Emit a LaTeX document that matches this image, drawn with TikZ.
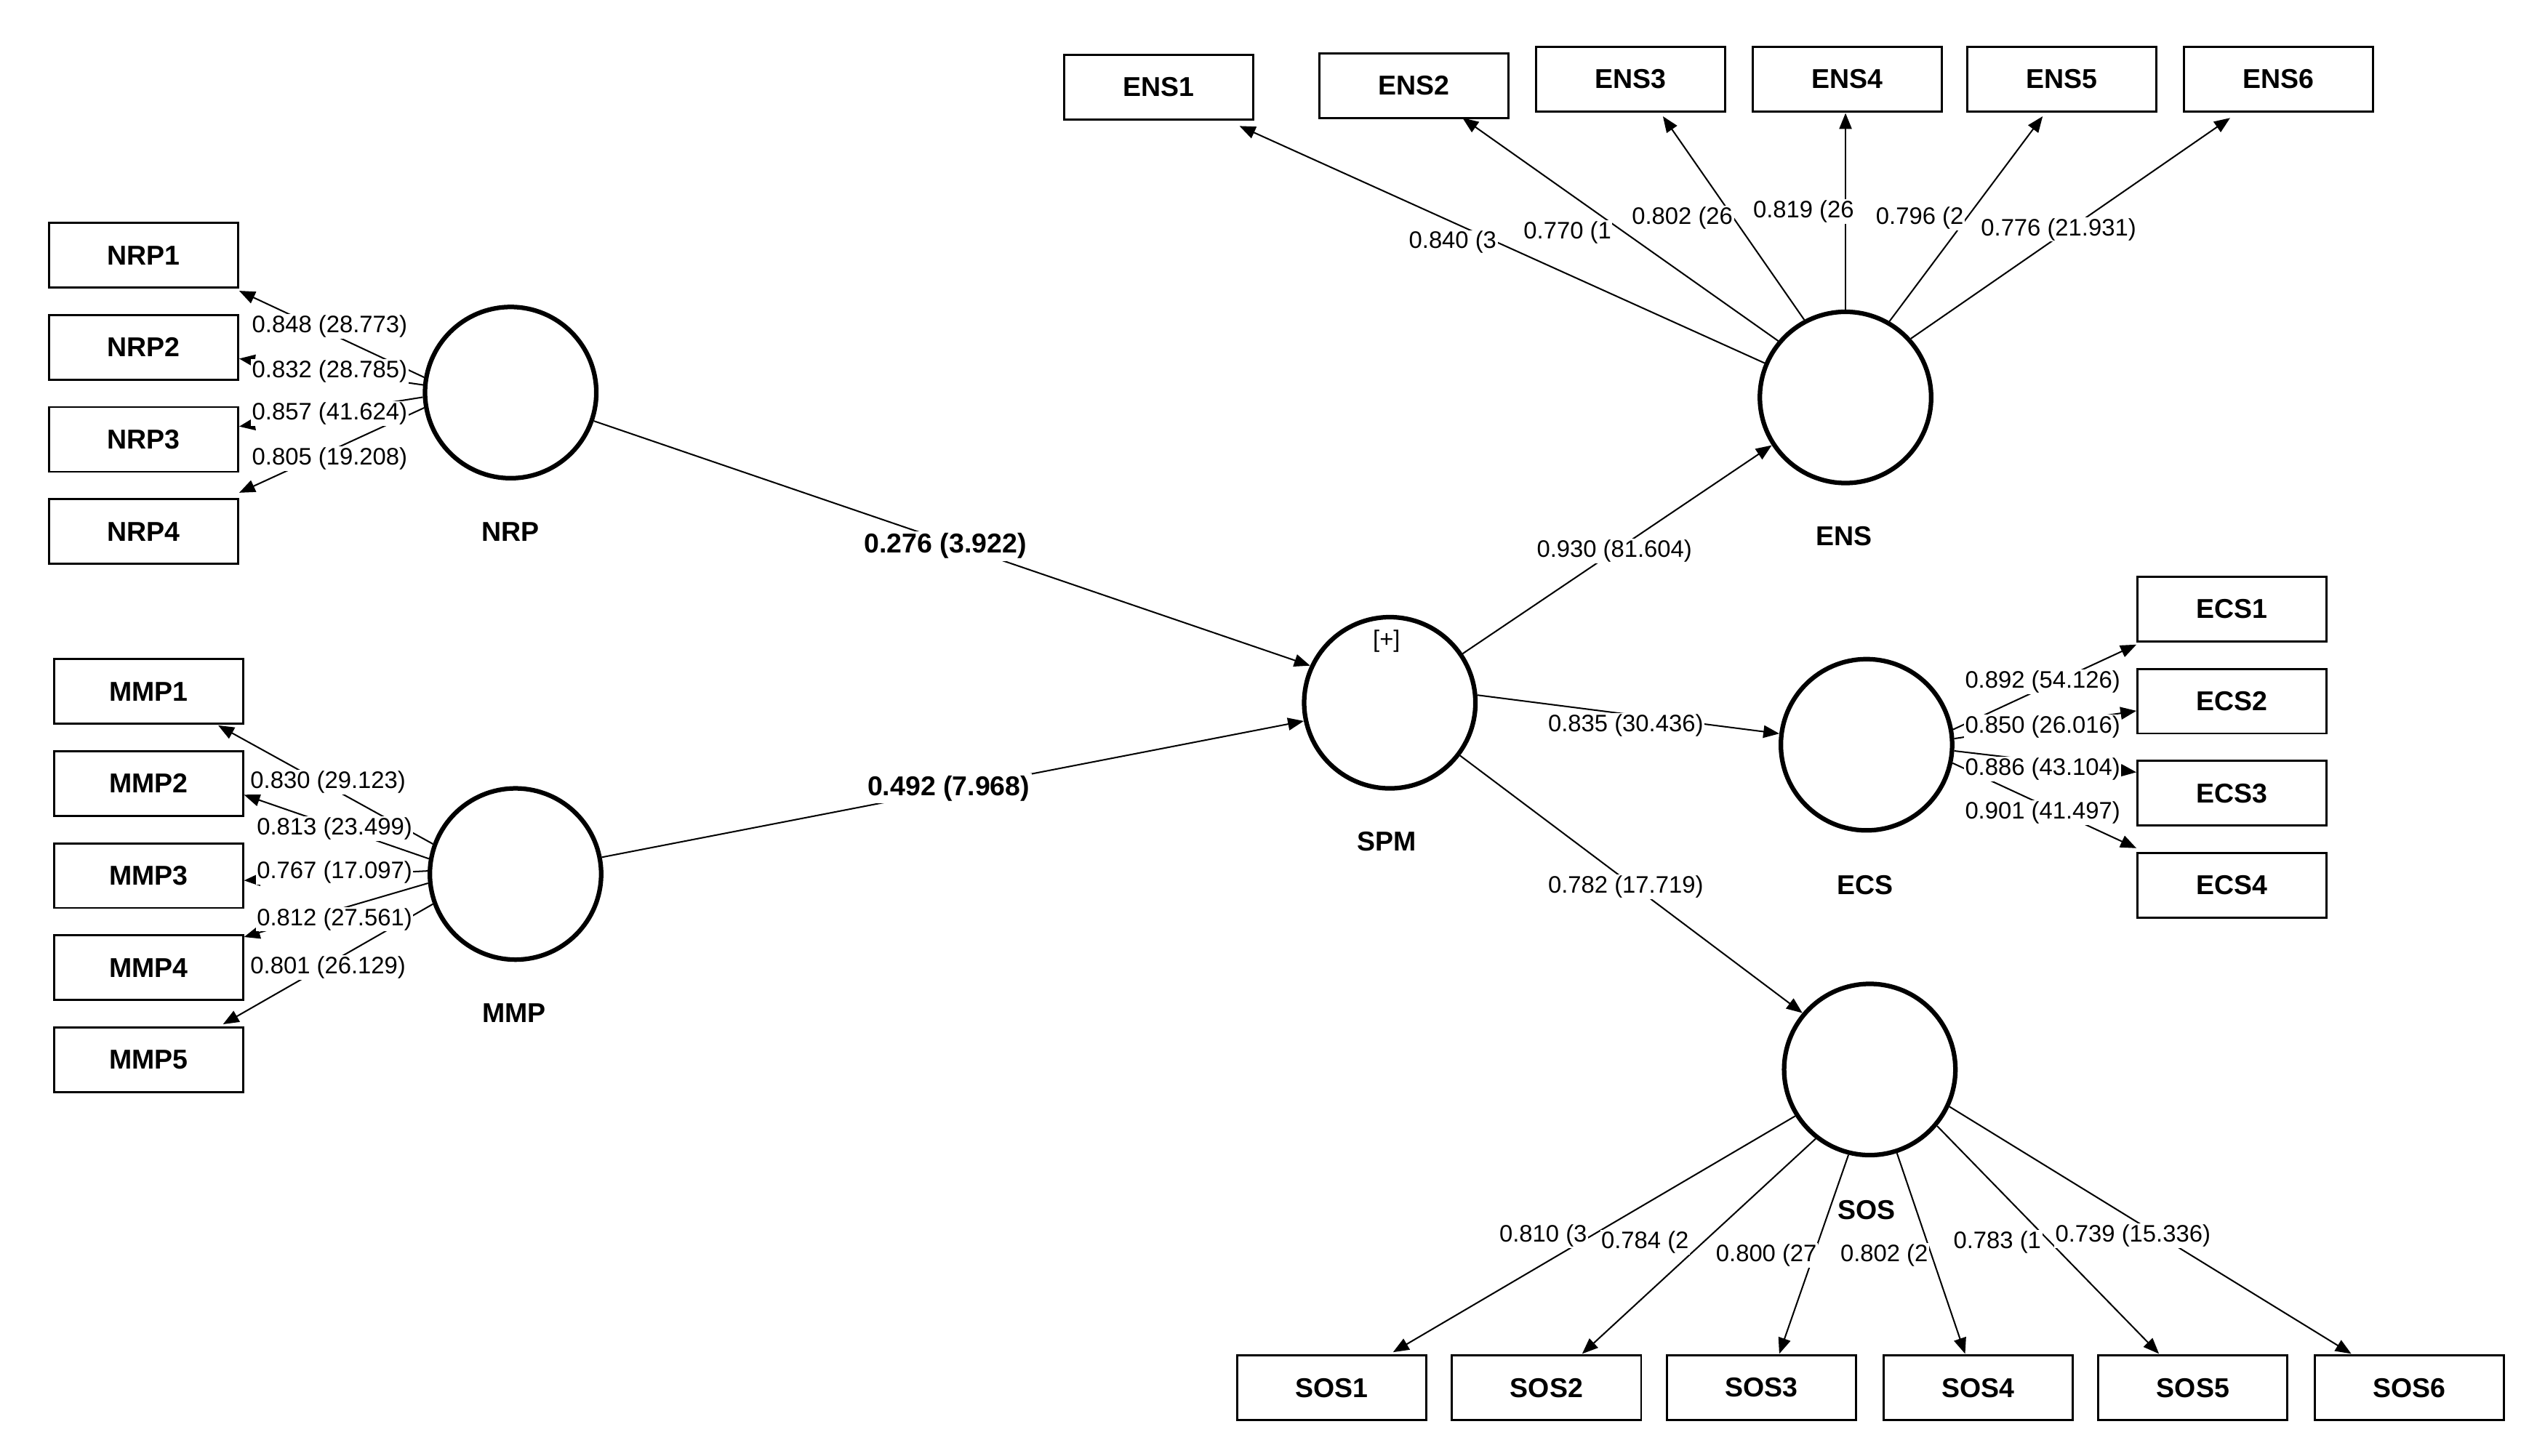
\documentclass[tikz,border=0pt]{standalone}
\usepackage{fontspec}
\setmainfont{Liberation Sans}
\usetikzlibrary{arrows.meta}
\begin{document}
\begin{tikzpicture}[x=0.05cm,y=-0.05cm,
 box/.style={draw,line width=1.8pt,fill=white,minimum width=5.85cm,minimum height=2cm,font=\fontsize{24}{28}\selectfont\bfseries,inner sep=0pt},
 lv/.style={draw,circle,line width=4pt,minimum size=5.3cm,inner sep=0pt},
 lvl/.style={font=\fontsize{24}{28}\selectfont\bfseries},
 num/.style={font=\fontsize{21}{24}\selectfont,fill=white,inner sep=1pt},
 bnum/.style={font=\fontsize{24}{28}\selectfont\bfseries,fill=white,inner sep=2pt},
 ar/.style={-{Triangle[length=14pt,width=11pt]},line width=1.3pt}]
\useasboundingbox (0,0) rectangle (1560,901);
% latent variables
\node[lv] (NRP) at (316,243) {};
\node[lv] (MMP) at (319,541) {};
\node[lv] (SPM) at (860,435) {};
\node[lv] (ENS) at (1142,246) {};
\node[lv] (ECS) at (1155,461) {};
\node[lv] (SOS) at (1157,662) {};
\node[lvl] (lNRP) at (316,329) {NRP};
\node[lvl] (lMMP) at (318,627) {MMP};
\node[lvl] (lSPM) at (858,521) {SPM};
\node[lvl] (lENS) at (1141,332) {ENS};
\node[lvl] (lECS) at (1154,548) {ECS};
\node[lvl] (lSOS) at (1155,749) {SOS};
\node[font=\fontsize{21}{24}\selectfont] (plus) at (858,397) {[+]};
% endpoints
\foreach \n/\x/\y in {n1/148/180,n2/148/222,n3/148/264,n4/148/305,
 m1/135/449,m2/151/492,m3/151/545,m4/151/580,m5/138/634,
 e1/767/78,e2/905/73,e3/1029/72,e4/1142/70,e5/1264/72,e6/1380/73,
 c1/1322/399,c2/1322/440,c3/1322/478,c4/1322/525,
 s1/862/837,s2/979/838,s3/1101/838,s4/1216/838,s5/1336/838,s6/1455/838}
 {\coordinate (\n) at (\x,\y);}
% structural paths
\draw[ar] (NRP) -- (SPM.155);
\draw[ar] (MMP) -- (SPM.192);
\draw[ar] (SPM) -- (ENS.213);
\draw[ar] (SPM.5) -- (ECS);
\draw[ar] (SPM) -- (SOS.140);
% loadings
\draw[ar] (NRP.170) -- (n1); \draw[ar] (NRP.175) -- (n2);
\draw[ar] (NRP.183) -- (n3); \draw[ar] (NRP.190) -- (n4);
\draw[ar] (MMP.160) -- (m1); \draw[ar] (MMP.170) -- (m2);
\draw[ar] (MMP.178) -- (m3); \draw[ar] (MMP.186) -- (m4);
\draw[ar] (MMP.200) -- (m5);
\draw[ar] (ENS.157) -- (e1); \draw[ar] (ENS.140) -- (e2);
\draw[ar] (ENS.118) -- (e3); \draw[ar] (ENS) -- (e4);
\draw[ar] (ENS.60) -- (e5); \draw[ar] (ENS.42) -- (e6);
\draw[ar] (ECS.10) -- (c1); \draw[ar] (ECS.4) -- (c2);
\draw[ar] (ECS.-4) -- (c3); \draw[ar] (ECS.-12) -- (c4);
\draw[ar] (SOS.212) -- (s1); \draw[ar] (SOS.232) -- (s2);
\draw[ar] (SOS.256) -- (s3); \draw[ar] (SOS.288) -- (s4);
\draw[ar] (SOS.320) -- (s5); \draw[ar] (SOS.335) -- (s6);
% path labels
\node[bnum] (p1) at (585,338) {0.276 (3.922)};
\node[bnum] (p2) at (587,488) {0.492 (7.968)};
\node[num] (p3) at (999,341) {0.930 (81.604)};
\node[num] (p4) at (1006,449) {0.835 (30.436)};
\node[num] (p5) at (1006,549) {0.782 (17.719)};
% loading labels
\node[num] (ln1) at (204,202) {0.848 (28.773)};
\node[num] (ln2) at (204,230) {0.832 (28.785)};
\node[num] (ln3) at (204,256) {0.857 (41.624)};
\node[num] (ln4) at (204,284) {0.805 (19.208)};
\node[num] (lm1) at (203,484) {0.830 (29.123)};
\node[num] (lm2) at (207,513) {0.813 (23.499)};
\node[num] (lm3) at (207,540) {0.767 (17.097)};
\node[num] (lm4) at (207,569) {0.812 (27.561)};
\node[num] (lm5) at (203,599) {0.801 (26.129)};
\node[num,anchor=west] (le1) at (871,150) {0.840 (3};
\node[num,anchor=west] (le2) at (942,144) {0.770 (1};
\node[num,anchor=west] (le3) at (1009,135) {0.802 (26};
\node[num,anchor=west] (le4) at (1084,131) {0.819 (26};
\node[num,anchor=west] (le5) at (1160,135) {0.796 (2};
\node[num,anchor=west] (le6) at (1225,142) {0.776 (21.931)};
\node[num] (lc1) at (1264,422) {0.892 (54.126)};
\node[num] (lc2) at (1264,450) {0.850 (26.016)};
\node[num] (lc3) at (1264,476) {0.886 (43.104)};
\node[num] (lc4) at (1264,503) {0.901 (41.497)};
\node[num,anchor=west] (ls1) at (927,765) {0.810 (3};
\node[num,anchor=west] (ls2) at (990,769) {0.784 (2};
\node[num,anchor=west] (ls3) at (1061,777) {0.800 (27};
\node[num,anchor=west] (ls4) at (1138,777) {0.802 (2};
\node[num,anchor=west] (ls5) at (1208,769) {0.783 (1};
\node[num,anchor=west] (ls6) at (1271,765) {0.739 (15.336)};
% indicator boxes
\node[box] (NRP1) at (89,158) {NRP1};
\node[box] (NRP2) at (89,215) {NRP2};
\node[box] (NRP3) at (89,272) {NRP3};
\node[box] (NRP4) at (89,329) {NRP4};
\node[box] (MMP1) at (92,428) {MMP1};
\node[box] (MMP2) at (92,485) {MMP2};
\node[box] (MMP3) at (92,542) {MMP3};
\node[box] (MMP4) at (92,599) {MMP4};
\node[box] (MMP5) at (92,656) {MMP5};
\node[box] (ENS1) at (717,54) {ENS1};
\node[box] (ENS2) at (875,53) {ENS2};
\node[box] (ENS3) at (1009,49) {ENS3};
\node[box] (ENS4) at (1143,49) {ENS4};
\node[box] (ENS5) at (1276,49) {ENS5};
\node[box] (ENS6) at (1410,49) {ENS6};
\node[box] (ECS1) at (1381,377) {ECS1};
\node[box] (ECS2) at (1381,434) {ECS2};
\node[box] (ECS3) at (1381,491) {ECS3};
\node[box] (ECS4) at (1381,548) {ECS4};
\node[box] (SOS1) at (824,859) {SOS1};
\node[box] (SOS2) at (957,859) {SOS2};
\node[box] (SOS3) at (1090,859) {SOS3};
\node[box] (SOS4) at (1224,859) {SOS4};
\node[box] (SOS5) at (1357,859) {SOS5};
\node[box] (SOS6) at (1491,859) {SOS6};
\end{tikzpicture}
\end{document}
